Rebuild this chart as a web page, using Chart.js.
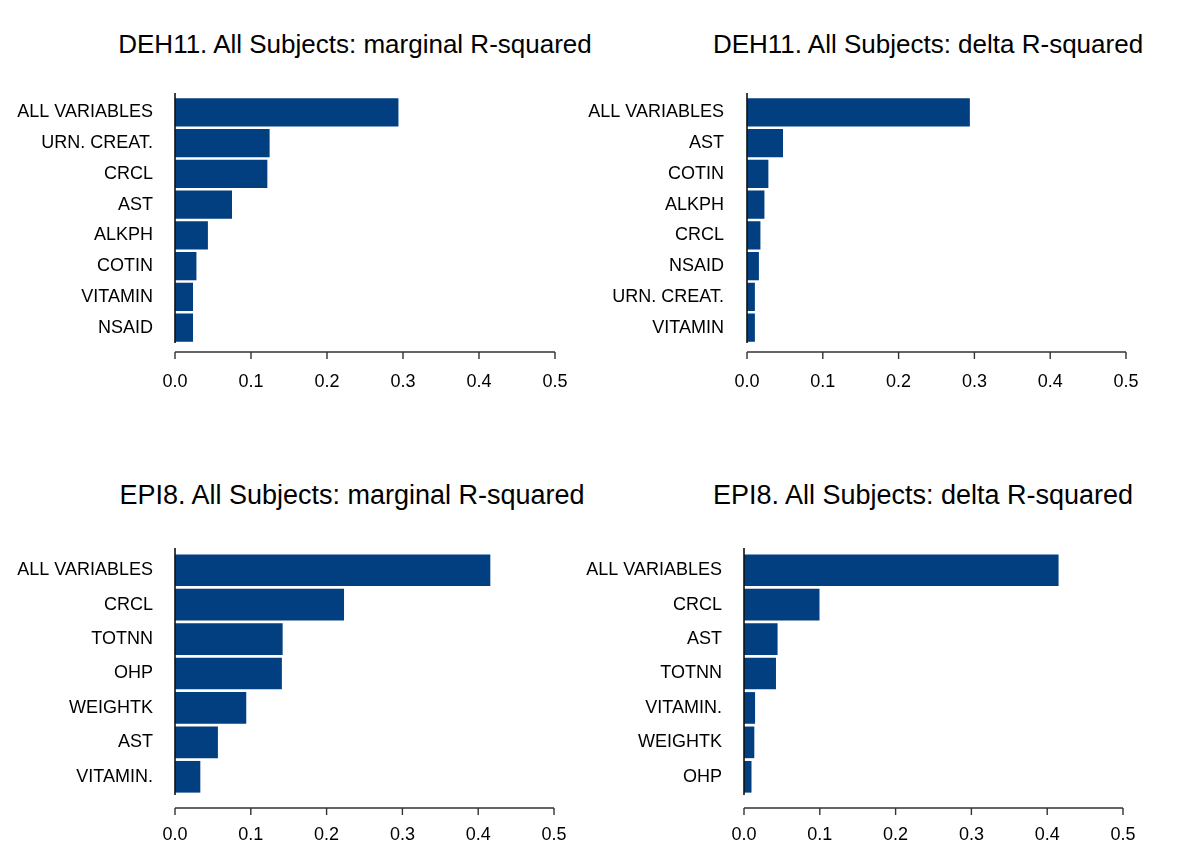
<!DOCTYPE html>
<html>
<head>
<meta charset="utf-8">
<script src="https://cdn.jsdelivr.net/npm/chart.js@4.4.0/dist/chart.umd.min.js"></script>
<style>
  body { margin: 0; background: #fff; }
  #wrap { position: relative; width: 1200px; height: 847px; font-family: "Liberation Sans", Arial, sans-serif; }
  .panel { position: absolute; }
  .title { position: absolute; width: 600px; text-align: center; font-size: 26px; color: #000; white-space: nowrap; }
  .title.low { font-size: 27px; }
</style>
</head>
<body>
<div id="wrap">
  <div class="title" style="left:55px; top:29px;">DEH11. All Subjects: marginal R-squared</div>
  <div class="title" style="left:628px; top:29px;">DEH11. All Subjects: delta R-squared</div>
  <div class="title low" style="left:52px; top:480px;">EPI8. All Subjects: marginal R-squared</div>
  <div class="title low" style="left:623px; top:480px;">EPI8. All Subjects: delta R-squared</div>

  <div class="panel" style="left:0; top:0; width:600px; height:424px;"><canvas id="Chart1"></canvas></div>
  <div class="panel" style="left:540px; top:0; width:660px; height:424px;"><canvas id="Chart2"></canvas></div>
  <div class="panel" style="left:0; top:424px; width:600px; height:423px;"><canvas id="Chart3"></canvas></div>
  <div class="panel" style="left:540px; top:424px; width:660px; height:423px;"><canvas id="Chart4"></canvas></div>
</div>

<script>
// DEH11 marginal R-squared
const dehMarginalLabels = ["ALL VARIABLES", "URN. CREAT.", "CRCL", "AST", "ALKPH", "COTIN", "VITAMIN", "NSAID"];
const dehMarginalValues = [0.294, 0.1245, 0.1215, 0.075, 0.0433, 0.0282, 0.0237, 0.0237];

// DEH11 delta R-squared
const dehDeltaLabels = ["ALL VARIABLES", "AST", "COTIN", "ALKPH", "CRCL", "NSAID", "URN. CREAT.", "VITAMIN"];
const dehDeltaValues = [0.294, 0.0475, 0.0282, 0.023, 0.0177, 0.0157, 0.0104, 0.0104];

// EPI8 marginal R-squared
const epiMarginalLabels = ["ALL VARIABLES", "CRCL", "TOTNN", "OHP", "WEIGHTK", "AST", "VITAMIN."];
const epiMarginalValues = [0.416, 0.223, 0.142, 0.141, 0.094, 0.0566, 0.0334];

// EPI8 delta R-squared
const epiDeltaLabels = ["ALL VARIABLES", "CRCL", "AST", "TOTNN", "VITAMIN.", "WEIGHTK", "OHP"];
const epiDeltaValues = [0.415, 0.0996, 0.0443, 0.0422, 0.0146, 0.0136, 0.0099];

// x axis ticks
const xTicks = [0, 0.1, 0.2, 0.3, 0.4, 0.5];

const barColor = "#023f80";
const fontFamily = "'Liberation Sans', Arial, sans-serif";

// R-style axes: detached x axis line with ticks pointing down
const rAxes = {
    id: 'rAxes',
    afterDraw(chart, args, opts) {
        const ctx = chart.ctx;
        const area = chart.chartArea;
        const x = chart.scales.x;
        ctx.save();
        ctx.strokeStyle = "#111";
        ctx.lineWidth = 1.6;
        // y axis line
        ctx.beginPath();
        ctx.moveTo(area.left, area.top - opts.yTopExt);
        ctx.lineTo(area.left, area.bottom + opts.yBottomExt);
        ctx.stroke();
        // x axis line
        const y0 = area.bottom + opts.xGap;
        const x0 = x.getPixelForValue(xTicks[0]);
        const x1 = x.getPixelForValue(xTicks[xTicks.length - 1]);
        ctx.lineWidth = 1.4;
        ctx.strokeStyle = "#333";
        ctx.beginPath();
        ctx.moveTo(x0, y0);
        ctx.lineTo(x1, y0);
        xTicks.forEach(function(t) {
            const px = x.getPixelForValue(t);
            ctx.moveTo(px, y0);
            ctx.lineTo(px, y0 + 7);
        });
        ctx.stroke();
        ctx.restore();
    }
};

function makeChart(id, labels, values, cfg) {
    const ctx = document.getElementById(id).getContext("2d");
    return new Chart(ctx, {
        type: "bar",
        data: {
            labels: labels,
            datasets: [
                {
                    label: "",
                    data: values,
                    backgroundColor: barColor,
                    borderWidth: 0,
                    barPercentage: 0.92,
                    categoryPercentage: 1.0,
                },
            ],
        },
        options: {
            indexAxis: "y",
            responsive: true,
            maintainAspectRatio: false,
            animation: false,
            layout: {
                padding: { left: 0, right: cfg.padRight, top: cfg.padTop, bottom: 0 },
            },
            plugins: {
                legend: { display: false },
                tooltip: { enabled: false },
                title: { display: false },
                rAxes: { yTopExt: cfg.yTopExt, yBottomExt: cfg.yBottomExt, xGap: cfg.xGap },
            },
            scales: {
                x: {
                    type: "linear",
                    min: 0,
                    max: 0.5,
                    afterBuildTicks: function(scale) {
                        scale.ticks = xTicks.map(function(v) { return { value: v }; });
                    },
                    afterFit: function(scale) {
                        scale.height = cfg.xHeight;
                    },
                    grid: { display: false, drawTicks: false },
                    border: { display: false },
                    ticks: {
                        padding: cfg.xPad,
                        color: "#000",
                        font: { family: fontFamily, size: 18 },
                        maxRotation: 0,
                        callback: function(v) { return Number(v).toFixed(1); },
                    },
                },
                y: {
                    afterFit: function(scale) {
                        scale.width = cfg.yWidth;
                    },
                    grid: { display: false, drawTicks: false },
                    border: { display: false },
                    ticks: {
                        padding: cfg.yPad,
                        color: "#000",
                        font: { family: fontFamily, size: 18 },
                        autoSkip: false,
                    },
                },
            },
        },
        plugins: [rAxes],
    });
}

makeChart("Chart1", dehMarginalLabels, dehMarginalValues,
    { yWidth: 175, padRight: 45, padTop: 97, xHeight: 81, xPad: 28, yPad: 22, yTopExt: 4, yBottomExt: 0, xGap: 9 });
makeChart("Chart2", dehDeltaLabels, dehDeltaValues,
    { yWidth: 207, padRight: 74, padTop: 97, xHeight: 81, xPad: 28, yPad: 23, yTopExt: 4, yBottomExt: 0, xGap: 9 });
makeChart("Chart3", epiMarginalLabels, epiMarginalValues,
    { yWidth: 175, padRight: 46, padTop: 129, xHeight: 53, xPad: 30, yPad: 22, yTopExt: 5, yBottomExt: 1, xGap: 14 });
makeChart("Chart4", epiDeltaLabels, epiDeltaValues,
    { yWidth: 204, padRight: 77, padTop: 129, xHeight: 53, xPad: 30, yPad: 22, yTopExt: 5, yBottomExt: 1, xGap: 14 });
</script>
</body>
</html>
